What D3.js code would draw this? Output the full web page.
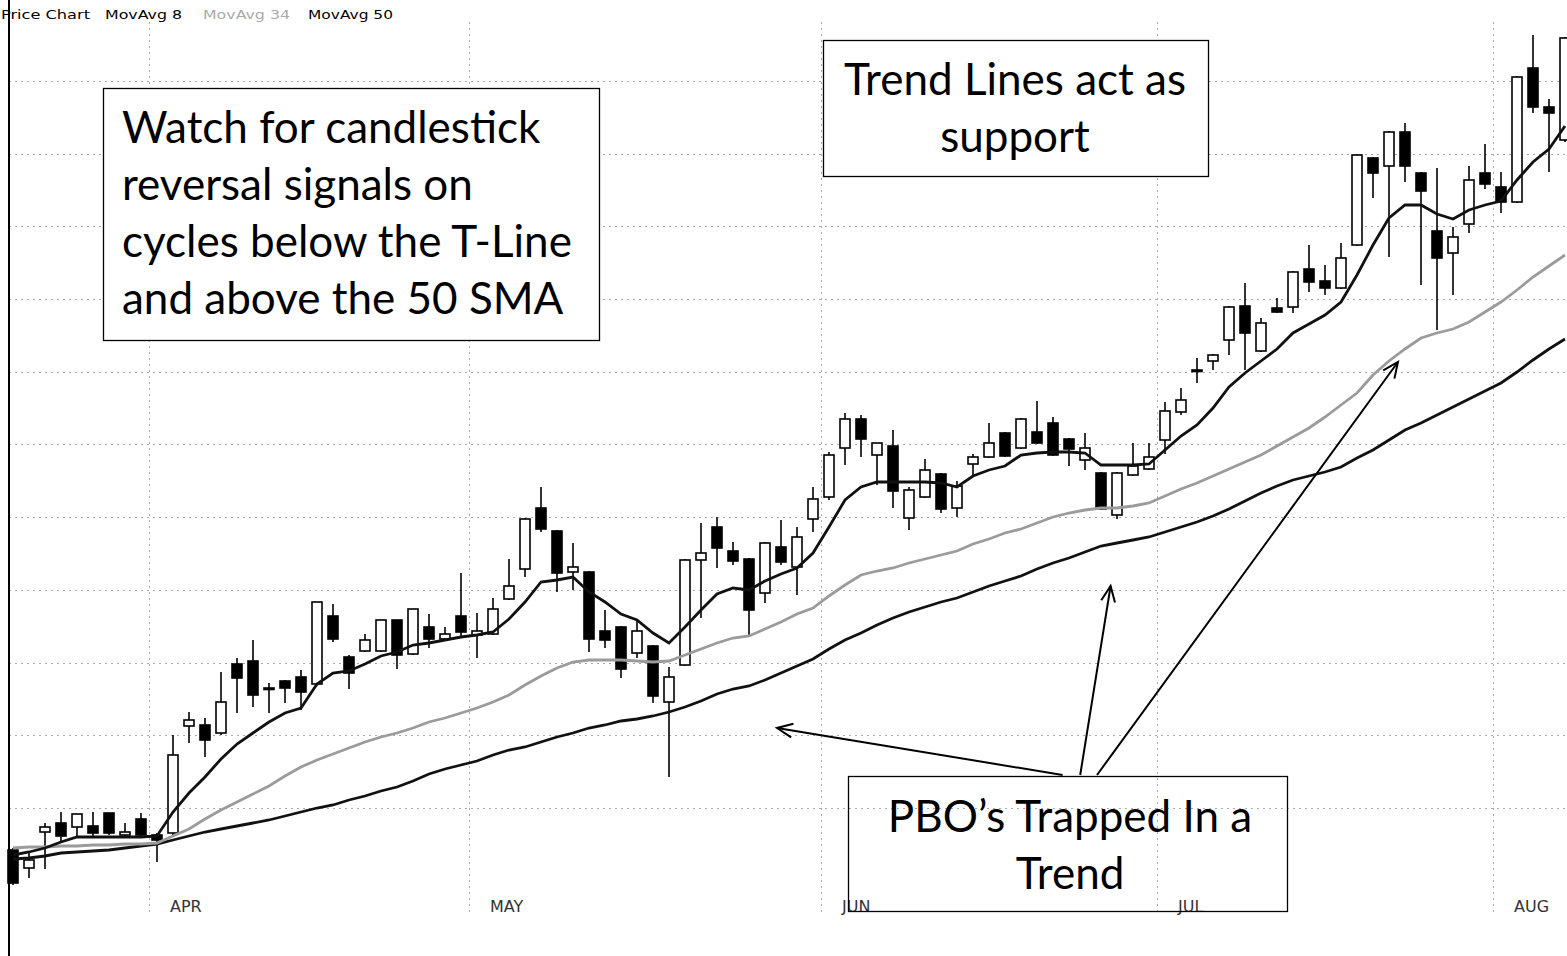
<!DOCTYPE html>
<html><head><meta charset="utf-8">
<script src="https://cdn.jsdelivr.net/npm/d3@7"></script>
<style>body{margin:0;background:#fff;} svg{display:block;}</style>
</head><body><svg id="c" width="1567" height="956"></svg>
<script>
// ---- DATA ----
const days = ["03-20","03-21","03-22","03-23","03-26","03-27","03-28","03-29","03-30",
"04-02","04-03","04-04","04-05","04-09","04-10","04-11","04-12","04-13","04-16","04-17","04-18","04-19","04-20","04-23","04-24","04-25","04-26","04-27","04-30",
"05-01","05-02","05-03","05-04","05-07","05-08","05-09","05-10","05-11","05-14","05-15","05-16","05-17","05-18","05-21","05-22","05-23","05-24","05-25","05-29","05-30","05-31",
"06-01","06-04","06-05","06-06","06-07","06-08","06-11","06-12","06-13","06-14","06-15","06-18","06-19","06-20","06-21","06-22","06-25","06-26","06-27","06-28","06-29",
"07-02","07-03","07-05","07-06","07-09","07-10","07-11","07-12","07-13","07-16","07-17","07-18","07-19","07-20","07-23","07-24","07-25","07-26","07-27","07-30","07-31",
"08-01","08-02","08-03","08-06","08-07"];

const opens = [19.58,19.40,19.76,19.85,19.81,19.82,19.95,19.73,19.89,19.73,
19.75,20.82,20.83,20.75,21.44,21.47,21.20,21.27,21.31,21.24,
21.92,21.51,21.57,21.57,21.88,21.54,21.81,21.69,21.92,21.73,
21.74,22.09,22.39,23.00,22.77,22.36,22.36,21.77,21.81,21.55,
21.62,21.06,21.43,22.48,22.81,22.57,22.49,22.15,22.61,22.41,
22.89,23.11,23.60,23.89,23.53,23.62,22.90,23.11,23.34,23.00,
23.44,23.51,23.75,23.60,23.76,23.85,23.69,23.48,23.35,22.93,
23.33,23.39,23.68,23.96,24.37,24.47,24.68,25.02,24.57,25.00,
25.01,25.39,25.27,25.20,25.63,26.50,26.42,26.76,26.35,25.77,
25.55,25.84,26.35,26.21,26.06,27.40,27.01,26.68];

const highs = [19.60,19.56,19.85,19.96,19.94,19.96,19.95,19.85,19.95,19.75,
20.73,20.96,20.90,21.36,21.50,21.68,21.25,21.28,21.38,22.06,
22.04,21.53,21.74,21.88,21.88,21.99,21.94,21.81,22.35,21.95,
22.10,22.49,22.90,23.21,22.78,22.65,22.37,21.98,21.82,21.88,
21.63,21.41,22.49,22.85,22.91,22.66,22.50,22.66,22.88,22.81,
23.21,23.56,23.95,23.93,23.65,23.78,23.21,23.49,23.35,23.27,
23.54,23.85,23.76,23.90,24.07,23.91,23.70,23.75,23.36,23.36,
23.65,23.65,24.06,24.20,24.50,24.54,25.02,25.25,24.90,25.10,
25.37,25.63,25.43,25.65,26.54,26.51,26.77,26.85,26.36,26.40,
25.81,26.42,26.64,26.36,27.32,27.73,27.09,27.71];

const lows = [19.23,19.30,19.39,19.65,19.71,19.70,19.73,19.72,19.72,19.46,
19.71,20.65,20.51,20.73,20.95,21.01,20.95,21.05,20.98,21.22,
21.66,21.19,21.56,21.56,21.39,21.53,21.60,21.68,21.71,21.50,
21.73,22.08,22.31,22.76,22.16,22.18,21.56,21.60,21.30,21.50,
21.05,20.31,21.42,21.90,22.40,22.43,21.71,22.05,22.43,22.13,
22.76,23.08,23.43,23.51,23.23,23.00,22.78,23.10,22.95,22.91,
23.33,23.50,23.51,23.59,23.64,23.52,23.42,23.38,22.98,22.89,
23.32,23.38,23.54,23.93,24.25,24.38,24.53,24.38,24.56,24.95,
24.95,25.16,25.13,25.19,25.62,26.10,25.51,26.26,25.23,24.78,
25.13,25.75,26.19,25.95,26.05,26.95,26.36,26.66];

const closes = [19.25,19.48,19.81,19.72,19.94,19.75,19.75,19.76,19.73,19.68,
20.53,20.88,20.68,21.06,21.30,21.13,21.19,21.20,21.16,22.06,
21.69,21.35,21.68,21.88,21.53,21.99,21.69,21.74,21.76,21.77,
21.99,22.22,22.89,22.79,22.35,22.41,21.69,21.68,21.39,21.77,
21.12,21.31,22.48,22.55,22.60,22.47,21.98,22.65,22.46,22.71,
23.09,23.53,23.89,23.69,23.65,23.17,23.18,23.38,22.99,23.22,
23.51,23.65,23.52,23.89,23.65,23.53,23.59,23.60,22.99,23.35,
23.42,23.51,23.97,24.08,24.38,24.53,25.01,24.75,24.85,24.96,
25.36,25.26,25.20,25.50,26.53,26.35,26.76,26.42,26.17,25.50,
25.71,26.28,26.24,26.06,27.31,27.01,26.95,27.70];

const ma8 = [19.53,19.56,19.60,19.66,19.71,19.71,19.71,19.71,19.71,19.72,
19.96,20.15,20.31,20.49,20.64,20.75,20.86,20.95,21.00,21.24,
21.35,21.37,21.44,21.52,21.56,21.63,21.65,21.68,21.71,21.73,
21.76,21.89,22.06,22.26,22.28,22.31,22.16,22.06,21.94,21.88,
21.75,21.65,21.81,21.98,22.14,22.20,22.18,22.27,22.34,22.40,
22.55,22.81,23.08,23.21,23.26,23.26,23.26,23.26,23.25,23.21,
23.32,23.38,23.42,23.53,23.55,23.56,23.56,23.55,23.43,23.43,
23.43,23.44,23.58,23.72,23.83,24.00,24.21,24.35,24.47,24.59,
24.75,24.84,24.93,25.06,25.33,25.63,25.90,26.03,26.03,25.94,
25.89,25.98,26.03,26.07,26.28,26.46,26.59,26.82];

const ma34 = [19.60,19.61,19.61,19.62,19.62,19.63,19.63,19.64,19.64,19.65,
19.72,19.79,19.89,19.98,20.06,20.14,20.22,20.32,20.41,20.48,
20.54,20.60,20.66,20.71,20.75,20.80,20.86,20.90,20.95,21.00,
21.06,21.13,21.23,21.32,21.40,21.46,21.48,21.48,21.48,21.47,
21.46,21.47,21.53,21.59,21.65,21.70,21.72,21.79,21.86,21.94,
22.00,22.12,22.23,22.33,22.37,22.40,22.45,22.49,22.53,22.57,
22.64,22.69,22.75,22.79,22.85,22.91,22.95,22.98,23.00,23.00,
23.02,23.05,23.12,23.19,23.25,23.32,23.39,23.46,23.53,23.62,
23.71,23.80,23.91,24.03,24.15,24.33,24.47,24.59,24.70,24.75,
24.79,24.86,24.96,25.06,25.18,25.31,25.42,25.53];

const ma50 = [19.49,19.50,19.52,19.55,19.56,19.57,19.58,19.60,19.62,19.64,
19.68,19.72,19.76,19.79,19.82,19.85,19.88,19.92,19.96,20.00,
20.03,20.08,20.12,20.17,20.21,20.27,20.34,20.39,20.43,20.47,
20.53,20.58,20.61,20.66,20.71,20.75,20.80,20.83,20.87,20.89,
20.92,20.96,21.01,21.07,21.14,21.19,21.22,21.28,21.35,21.42,
21.49,21.59,21.68,21.75,21.83,21.90,21.96,22.01,22.06,22.10,
22.16,22.22,22.27,22.32,22.39,22.45,22.50,22.56,22.62,22.65,
22.68,22.71,22.76,22.81,22.86,22.92,22.99,23.07,23.15,23.22,
23.28,23.32,23.36,23.41,23.50,23.58,23.68,23.78,23.85,23.93,
24.01,24.09,24.17,24.25,24.36,24.48,24.59,24.69];

const gridLevels = [20.00,20.73,21.45,22.18,22.91,23.64,24.36,25.09,25.82,26.54,27.27];
const monthTicks = ["04-02","05-01","06-01","07-02","08-01"];
const monthLabels = ["APR","MAY","JUN","JUL","AUG"];
const legendNames = ["Price Chart","MovAvg 8","MovAvg 34","MovAvg 50"];

// arrows (day index, price) -> tip (day index, price)
const arrowFromIdx = [65.6, 66.7, 67.75];
const arrowFromPrice = [20.33, 20.33, 20.33];
const arrowToIdx = [47.75, 68.6, 86.56];
const arrowToPrice = [20.80, 22.22, 24.46];

// ---- CHART ----
const W = 1567, H = 956;
const svg = d3.select("#c");
svg.append("rect").attr("width", W).attr("height", H).attr("fill", "#fff");

const x = d3.scaleBand().domain(days).range([5, 5 + 16 * days.length]).padding(0);
const bw = x.bandwidth();
const xc = i => x(days[i]) + bw / 2;
const xf = f => xc(0) + f * x.step();
const y = d3.scaleLinear().domain([18.52, 28.08]).range([H, 0]);

const grid = svg.append("g");
grid.selectAll("line.h").data(gridLevels).join("line")
  .attr("x1", 9).attr("x2", W)
  .attr("y1", d => Math.round(y(d)) + 0.5).attr("y2", d => Math.round(y(d)) + 0.5)
  .attr("stroke", "#aaa").attr("stroke-width", 1).attr("stroke-dasharray", "2,4");
grid.selectAll("line.v").data(monthTicks).join("line")
  .attr("x1", d => Math.round(x(d)) + 0.5).attr("x2", d => Math.round(x(d)) + 0.5)
  .attr("y1", 22).attr("y2", 915)
  .attr("stroke", "#aaa").attr("stroke-width", 1).attr("stroke-dasharray", "2,4");

// month labels
svg.selectAll("text.m").data(monthTicks).join("text")
  .attr("x", d => x(d) + 21).attr("y", 912)
  .attr("font-family", "DejaVu Sans").attr("font-size", 16)
  .attr("fill", "#333")
  .text((d, i) => monthLabels[i]);

// candles
const cg = svg.append("g");
const idx = d3.range(days.length);
cg.selectAll("line.w").data(idx).join("line")
  .attr("x1", i => xc(i)).attr("x2", i => xc(i))
  .attr("y1", i => y(highs[i])).attr("y2", i => y(lows[i]))
  .attr("stroke", "#000").attr("stroke-width", 1.6);
const bodyW = 10;
cg.selectAll("rect.b").data(idx).join("rect")
  .attr("x", i => xc(i) - bodyW / 2).attr("width", bodyW)
  .attr("y", i => y(Math.max(opens[i], closes[i])))
  .attr("height", i => Math.max(1.5, Math.abs(y(opens[i]) - y(closes[i]))))
  .attr("fill", i => closes[i] >= opens[i] ? "#fff" : "#000")
  .attr("stroke", "#000").attr("stroke-width", 1.6);

// moving averages
const line = arr => d3.line().x((d, i) => xc(i)).y(d => y(d))(arr);
svg.append("path").attr("d", line(ma50)).attr("fill", "none").attr("stroke", "#111").attr("stroke-width", 2.8);
svg.append("path").attr("d", line(ma34)).attr("fill", "none").attr("stroke", "#9b9b9b").attr("stroke-width", 2.8);
svg.append("path").attr("d", line(ma8)).attr("fill", "none").attr("stroke", "#111").attr("stroke-width", 2.8);

// frame
svg.append("line").attr("x1", 9).attr("x2", 9).attr("y1", 0).attr("y2", H).attr("stroke", "#000").attr("stroke-width", 2);

// legend
const legX = [1, 105, 203, 308], legW = [89, 77, 87, 85], legC = ["#000", "#000", "#aaa", "#000"];
svg.selectAll("text.l").data(legendNames).join("text")
  .attr("x", (d, i) => legX[i]).attr("y", 19)
  .attr("font-family", "DejaVu Sans").attr("font-size", 13)
  .attr("textLength", (d, i) => legW[i]).attr("lengthAdjust", "spacingAndGlyphs")
  .attr("fill", (d, i) => legC[i]).text(d => d);

// annotation boxes
const boxFont = "Lato", boxSize = 44;
function box(bx, by, bw2, bh, lines, anchor, tx, baseY, lh) {
  svg.append("rect").attr("x", bx + 0.5).attr("y", by + 0.5).attr("width", bw2).attr("height", bh)
    .attr("fill", "#fff").attr("stroke", "#000").attr("stroke-width", 1.3);
  lines.forEach((t, i) => {
    svg.append("text").attr("x", tx).attr("y", baseY + i * lh)
      .attr("text-anchor", anchor).attr("font-family", boxFont).attr("font-size", boxSize)
      .attr("fill", "#000").text(t);
  });
}
box(103, 88, 496, 252, ["Watch for candlestick", "reversal signals on", "cycles below the T-Line", "and above the 50 SMA"], "start", 122, 143, 57);
box(823, 40, 385, 136, ["Trend Lines act as", "support"], "middle", 1015, 95, 57);

// arrows
const ag = svg.append("g").attr("stroke", "#000").attr("stroke-width", 2).attr("fill", "none");
arrowToIdx.forEach((t, i) => {
  const x0 = xf(arrowFromIdx[i]), y0 = y(arrowFromPrice[i]);
  const x1 = xf(t), y1 = y(arrowToPrice[i]);
  ag.append("line").attr("x1", x0).attr("y1", y0).attr("x2", x1).attr("y2", y1);
  const a = Math.atan2(y1 - y0, x1 - x0), L = 17, s = 0.42;
  ag.append("polyline").attr("points", [
    [x1 - L * Math.cos(a - s), y1 - L * Math.sin(a - s)], [x1, y1],
    [x1 - L * Math.cos(a + s), y1 - L * Math.sin(a + s)]].map(p => p.join(",")).join(" "));
});

// PBO box (transparent so the month labels show through)
svg.append("rect").attr("x", 848.5).attr("y", 776.5).attr("width", 439).attr("height", 135)
  .attr("fill", "none").attr("stroke", "#000").attr("stroke-width", 1.3);
["PBO\u2019s Trapped In a", "Trend"].forEach((t, i) => {
  svg.append("text").attr("x", 1070).attr("y", 832 + i * 57).attr("text-anchor", "middle")
    .attr("font-family", boxFont).attr("font-size", boxSize).attr("fill", "#000").text(t);
});
</script></body></html>
